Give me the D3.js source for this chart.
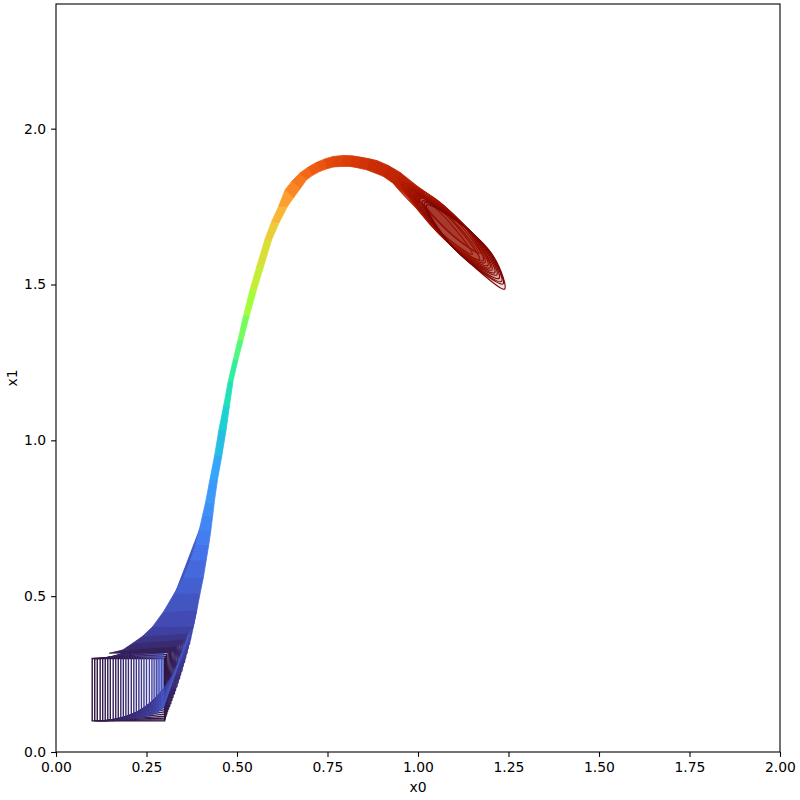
<!DOCTYPE html>
<html>
<head>
<meta charset="utf-8">
<title>reach set</title>
<script src="https://d3js.org/d3.v7.min.js"></script>
<style>
  body { margin: 0; background: #ffffff; }
  text { font-family: "DejaVu Sans", sans-serif; }
</style>
</head>
<body>
<svg id="chart" width="800" height="800"></svg>
<script>
// early sets: boxes with a vertical left side
let boxLeftX = [0.100,0.107,0.114,0.122,0.129,0.136,0.143,0.150,0.158,0.165,0.172,0.179,
                0.186,0.193,0.200,0.208,0.215,0.222,0.229,0.236,0.243,0.250,0.258,0.265,
                0.271,0.277,0.282,0.287,0.292,0.296];
let boxTopLeftY = [0.300,0.300,0.300,0.301,0.301,0.302,0.303,0.304,0.305,0.307,0.309,0.311,
                   0.314,0.317,0.320,0.323,0.327,0.331,0.335,0.340,0.345,0.350,0.356,0.362,
                   0.368,0.375,0.382,0.390,0.398,0.406];
let boxBottomLeftY = [0.100,0.100,0.100,0.100,0.100,0.100,0.101,0.101,0.101,0.102,0.102,0.103,
                      0.103,0.104,0.105,0.106,0.107,0.108,0.109,0.110,0.112,0.114,0.116,0.118,
                      0.121,0.124,0.128,0.132,0.137,0.142];
let boxTopRight = [[0.300,0.300],[0.303,0.306],[0.306,0.313],[0.310,0.321],[0.314,0.330],[0.318,0.340],
                   [0.322,0.350],[0.326,0.361],[0.330,0.373],[0.334,0.386],[0.338,0.399],[0.342,0.413],
                   [0.346,0.428],[0.350,0.443],[0.354,0.459],[0.358,0.475],[0.362,0.492],[0.366,0.509],
                   [0.370,0.527],[0.374,0.545],[0.377,0.563],[0.381,0.582],[0.384,0.601],[0.388,0.620],
                   [0.391,0.640],[0.394,0.660],[0.397,0.680],[0.400,0.700],[0.403,0.720],[0.406,0.740]];
let boxBottomRight = [[0.300,0.100],[0.301,0.104],[0.302,0.109],[0.304,0.115],[0.306,0.122],[0.308,0.130],
                      [0.311,0.138],[0.314,0.147],[0.317,0.156],[0.320,0.166],[0.323,0.176],[0.327,0.187],
                      [0.330,0.198],[0.334,0.210],[0.337,0.222],[0.341,0.235],[0.344,0.248],[0.348,0.261],
                      [0.351,0.275],[0.355,0.289],[0.358,0.303],[0.362,0.318],[0.365,0.333],[0.369,0.349],
                      [0.372,0.365],[0.375,0.381],[0.378,0.397],[0.381,0.413],[0.384,0.430],[0.387,0.447]];
let boxTime = [0.000,0.003,0.005,0.008,0.010,0.013,0.015,0.018,0.020,0.023,0.025,0.028,
               0.030,0.033,0.036,0.039,0.042,0.045,0.048,0.051,0.054,0.057,0.060,0.063,
               0.067,0.073,0.079,0.086,0.093,0.100];

// the dense middle part, as cross-sections of the swept band
let bandUpper = [[0.147,0.317],[0.184,0.327],[0.212,0.349],[0.240,0.372],[0.267,0.402],[0.297,0.450],
                 [0.327,0.509],[0.352,0.560],[0.372,0.616],[0.386,0.665],[0.396,0.713],[0.405,0.760],
                 [0.413,0.800],[0.425,0.873],[0.438,0.950],[0.450,1.034],[0.463,1.110],[0.476,1.190],
                 [0.490,1.260],[0.503,1.323],[0.518,1.400],[0.536,1.483],[0.555,1.560],[0.577,1.644],
                 [0.595,1.700],[0.615,1.751],[0.633,1.804],[0.652,1.832],[0.674,1.858],[0.697,1.877],
                 [0.720,1.892],[0.743,1.903],[0.766,1.911],[0.794,1.914],[0.818,1.913],[0.840,1.909],
                 [0.863,1.904],[0.886,1.898],[0.918,1.882],[0.950,1.860],[0.987,1.826],[1.020,1.795]];
let bandLower = [[0.318,0.318],[0.335,0.340],[0.352,0.362],[0.366,0.382],[0.379,0.402],[0.389,0.455],
                 [0.398,0.509],[0.407,0.560],[0.415,0.616],[0.422,0.665],[0.428,0.713],[0.433,0.760],
                 [0.437,0.800],[0.446,0.873],[0.458,0.950],[0.470,1.034],[0.479,1.110],[0.489,1.190],
                 [0.503,1.260],[0.517,1.323],[0.534,1.400],[0.554,1.483],[0.574,1.560],[0.596,1.644],
                 [0.617,1.700],[0.640,1.751],[0.656,1.778],[0.675,1.808],[0.692,1.836],[0.710,1.851],
                 [0.729,1.863],[0.748,1.871],[0.766,1.877],[0.790,1.879],[0.812,1.879],[0.835,1.874],
                 [0.858,1.868],[0.881,1.858],[0.904,1.847],[0.930,1.826],[0.965,1.787],[0.995,1.752]];
let bandTime = [0.020,0.035,0.050,0.065,0.080,0.095,0.110,0.125,0.140,0.155,0.170,0.185,
                0.200,0.220,0.260,0.290,0.330,0.370,0.410,0.450,0.500,0.550,0.590,0.630,
                0.670,0.710,0.740,0.760,0.780,0.800,0.810,0.830,0.840,0.850,0.860,0.870,
                0.880,0.890,0.900,0.910,0.920,0.930];

// last sets: back, upper side, upper front, tip, lower front, lower side
let endSets = [
  [[0.929,1.833],[1.011,1.782],[1.106,1.674],[1.150,1.597],[1.083,1.647],[0.989,1.753]],
  [[0.948,1.843],[1.033,1.786],[1.128,1.676],[1.172,1.600],[1.104,1.649],[1.010,1.757]],
  [[0.952,1.821],[1.035,1.766],[1.128,1.658],[1.170,1.580],[1.100,1.626],[1.010,1.732]],
  [[0.970,1.820],[1.048,1.761],[1.120,1.676],[1.166,1.602],[1.101,1.653],[1.029,1.738]],
  [[0.954,1.828],[1.043,1.779],[1.144,1.662],[1.180,1.577],[1.104,1.617],[1.006,1.731]],
  [[0.960,1.822],[1.049,1.773],[1.149,1.656],[1.185,1.570],[1.111,1.609],[1.012,1.725]],
  [[0.968,1.813],[1.058,1.763],[1.157,1.648],[1.193,1.561],[1.119,1.601],[1.019,1.718]],
  [[0.974,1.806],[1.064,1.756],[1.163,1.641],[1.199,1.554],[1.125,1.594],[1.025,1.711]],
  [[0.981,1.800],[1.070,1.749],[1.169,1.634],[1.204,1.547],[1.131,1.587],[1.030,1.704]],
  [[0.989,1.792],[1.077,1.740],[1.177,1.625],[1.212,1.538],[1.139,1.579],[1.038,1.695]],
  [[0.995,1.785],[1.083,1.733],[1.183,1.619],[1.218,1.531],[1.145,1.572],[1.044,1.688]],
  [[1.003,1.777],[1.091,1.724],[1.192,1.609],[1.224,1.520],[1.152,1.564],[1.052,1.679]],
  [[1.012,1.768],[1.099,1.715],[1.199,1.599],[1.231,1.510],[1.160,1.555],[1.059,1.670]],
  [[1.018,1.762],[1.104,1.708],[1.205,1.592],[1.235,1.502],[1.166,1.548],[1.065,1.662]],
  [[1.024,1.755],[1.110,1.701],[1.211,1.586],[1.239,1.485],[1.171,1.541],[1.071,1.656]]
];
let endTime = [0.905,0.912,0.918,0.924,0.930,0.937,0.944,0.951,0.958,0.965,0.972,0.979,0.986,0.993,1.000];

let xTicks = [0, 0.25, 0.5, 0.75, 1, 1.25, 1.5, 1.75, 2];
let yTicks = [0, 0.5, 1, 1.5, 2];

// matplotlib "turbo" sampled at 15 stops
let turboStops = ["#30123b","#4145ab","#4675ed","#39a2fc","#1bcfd4","#24eca6","#61fc6c","#a4fc3b",
                  "#d1e834","#f3c63a","#fe9b2d","#f36315","#d93806","#b11901","#7a0402"];

let svg = d3.select("#chart");
let pLeft = 56, pRight = 780, pTop = 4, pBottom = 752;

let x = d3.scaleLinear().domain([0, 2]).range([pLeft, pRight]);
let y = d3.scaleLinear().domain([0, 2.4]).range([pBottom, pTop]);
let color = d3.scaleLinear()
    .domain(turboStops.map((c, i) => i / (turboStops.length - 1)))
    .range(turboStops)
    .interpolate(d3.interpolateRgb);

svg.append("defs").append("clipPath").attr("id", "clip")
    .append("rect").attr("x", pLeft).attr("y", pTop)
    .attr("width", pRight - pLeft).attr("height", pBottom - pTop);

let plot = svg.append("g").attr("clip-path", "url(#clip)");
let closedLine = d3.line().x(d => x(d[0])).y(d => y(d[1])).curve(d3.curveLinearClosed);
let roundLine = d3.line().x(d => x(d[0])).y(d => y(d[1])).curve(d3.curveCatmullRomClosed.alpha(0.5));

// boxes
let boxes = boxLeftX.map((lx, i) => ({
    pts: [[lx, boxTopLeftY[i]], boxTopRight[i], boxBottomRight[i], [lx, boxBottomLeftY[i]]],
    t: boxTime[i]
}));
plot.append("g").selectAll("path").data(boxes).join("path")
    .attr("d", d => closedLine(d.pts))
    .attr("fill", "none")
    .attr("stroke", d => color(d.t))
    .attr("stroke-width", 1.4);

// swept band
let segs = [];
for (let i = 0; i < bandUpper.length - 1; i++) {
    segs.push({ pts: [bandUpper[i], bandUpper[i + 1], bandLower[i + 1], bandLower[i]], t: bandTime[i] });
}
plot.append("g").selectAll("path").data(segs).join("path")
    .attr("d", d => closedLine(d.pts))
    .attr("fill", d => color(d.t))
    .attr("stroke", d => color(d.t))
    .attr("stroke-width", 0.8)
    .attr("stroke-linejoin", "round");

// last sets
plot.append("g").selectAll("path").data(endSets).join("path")
    .attr("d", d => roundLine(d))
    .attr("fill", (d, i) => color(endTime[i]))
    .attr("fill-opacity", 0.1)
    .attr("stroke", (d, i) => color(endTime[i]))
    .attr("stroke-width", 1.2);

// axes
let xAxis = svg.append("g").attr("transform", `translate(0,${pBottom})`)
    .call(d3.axisBottom(x).tickValues(xTicks).tickFormat(d3.format(".2f"))
        .tickSize(4.9).tickPadding(4.9).tickSizeOuter(0));
let yAxis = svg.append("g").attr("transform", `translate(${pLeft},0)`)
    .call(d3.axisLeft(y).tickValues(yTicks).tickFormat(d3.format(".1f"))
        .tickSize(4.9).tickPadding(4.9).tickSizeOuter(0));
[xAxis, yAxis].forEach(a => {
    a.select(".domain").remove();
    a.selectAll("line").attr("stroke", "#000").attr("stroke-width", 1.1);
    a.selectAll("text").attr("font-family", "DejaVu Sans").attr("font-size", 13.9).attr("fill", "#000");
});

svg.append("rect").attr("x", pLeft).attr("y", pTop)
    .attr("width", pRight - pLeft).attr("height", pBottom - pTop)
    .attr("fill", "none").attr("stroke", "#000").attr("stroke-width", 1.1);

svg.append("text").attr("x", (pLeft + pRight) / 2).attr("y", 792)
    .attr("text-anchor", "middle").attr("font-size", 13.9).text("x0");
svg.append("text").attr("transform", `translate(17,${(pTop + pBottom) / 2}) rotate(-90)`)
    .attr("text-anchor", "middle").attr("font-size", 13.9).text("x1");
</script>
</body>
</html>
